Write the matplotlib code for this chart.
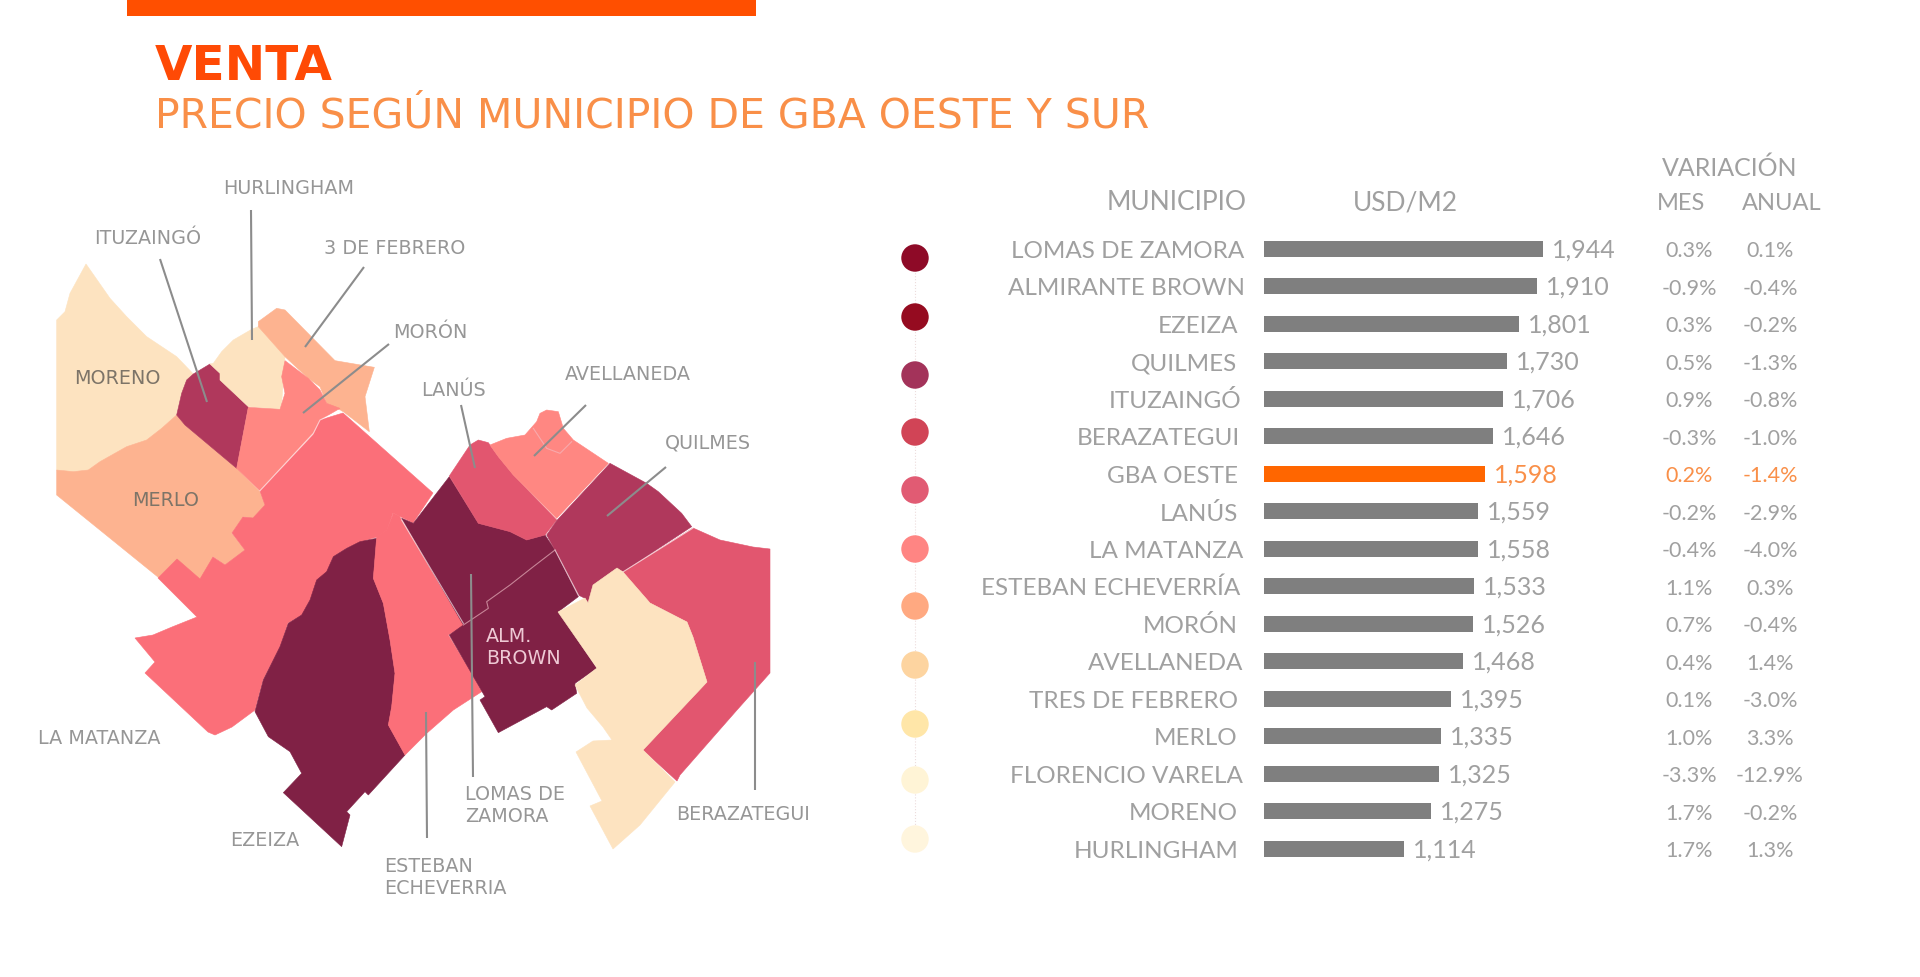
import matplotlib
matplotlib.use("Agg")
import matplotlib.pyplot as plt
from matplotlib.patches import Polygon, Rectangle

# ---------- table data ----------
municipios = ["LOMAS DE ZAMORA", "ALMIRANTE BROWN", "EZEIZA", "QUILMES", "ITUZAINGÓ", "BERAZATEGUI",
              "GBA OESTE", "LANÚS", "LA MATANZA", "ESTEBAN ECHEVERRÍA", "MORÓN", "AVELLANEDA",
              "TRES DE FEBRERO", "MERLO", "FLORENCIO VARELA", "MORENO", "HURLINGHAM"]
usd_m2 = [1944, 1910, 1801, 1730, 1706, 1646, 1598, 1559, 1558, 1533, 1526, 1468, 1395, 1335, 1325, 1275, 1114]
var_mes = ["0.3%", "-0.9%", "0.3%", "0.5%", "0.9%", "-0.3%", "0.2%", "-0.2%", "-0.4%", "1.1%", "0.7%", "0.4%",
           "0.1%", "1.0%", "-3.3%", "1.7%", "1.7%"]
var_anual = ["0.1%", "-0.4%", "-0.2%", "-1.3%", "-0.8%", "-1.0%", "-1.4%", "-2.9%", "-4.0%", "0.3%", "-0.4%",
             "1.4%", "-3.0%", "3.3%", "-12.9%", "-0.2%", "1.3%"]
name_right = [1244, 1245, 1238, 1237, 1241, 1240, 1238, 1238, 1243, 1240, 1238, 1243, 1238, 1237, 1243, 1238, 1239]
legend_colors = ["#8e0a27", "#950b20", "#a3335a", "#d14456", "#e15b73", "#ff8583",
                 "#ffa981", "#fdd4a0", "#ffe6a8", "#fff4d6", "#fff5dd"]
legend_y = [258, 317, 375, 432, 490, 549, 606, 665, 724, 780, 839]

# ---------- map geometry (municipal outlines, traced in image pixels) ----------
def z1(pts): return [(30 + x / 3, 170 + y / 3) for x, y in pts]
def z2(pts): return [(400 + x / 3, 350 + y / 3) for x, y in pts]
def z3(pts): return [(120 + x / 3, 500 + y / 3) for x, y in pts]

CREAM, PEACH, SALMON, CORAL, ROSE, BERRY, WINE = ("#fde3c0", "#fdb390", "#ff8782", "#fb6f79",
                                                  "#e2566f", "#b0385c", "#802145")
moreno = z1([(168,282),(120,370),(105,425),(80,450),(80,900),(130,905),(175,900),(210,875),(290,830),(350,810),
             (395,775),(440,735),(445,710),(455,670),(470,630),(490,612),(440,560),(350,500),(290,440),(240,385)])
merlo = z1([(80,900),(130,905),(175,900),(210,875),(290,830),(350,810),(395,775),(440,735),(465,765),(620,895),
            (690,965),(705,1005),(670,1045),(640,1040),(605,1090),(645,1140),(585,1185),(550,1160),(510,1230),
            (440,1170),(385,1222),(80,975)])
ituzaingo = z1([(540,582),(570,610),(570,630),(655,710),(620,895),(465,765),(440,735),(455,670),(470,630),(490,612)])
hurlingham = z1([(550,580),(575,545),(610,510),(665,478),(685,470),(765,560),(755,700),(750,718),(655,710),
                 (570,630),(570,610),(540,582)])
tres_feb = z1([(685,455),(740,415),(765,420),(915,572),(1033,592),(1005,680),(1018,785),(940,725),(890,700),
               (870,650),(835,625),(765,560),(685,470)])
moron = z1([(765,572),(835,625),(870,660),(890,700),(930,715),(870,750),(850,790),(690,962),(620,895),(655,712),
            (750,718),(765,670),(755,620)])
la_matanza = [(343,413),(433,493),(413,523),(399,516),(393,513),(387,530),(377,537),(360,542),(347,548),(333,557),
              (327,572),(317,580),(310,600),(302,615),(288,623),(280,647),(263,680),(255,710),(232,727),(215,735),
              (208,732),(145,673),(155,662),(135,638),(153,635),(172,627),(197,617),(158,578),(177,559),(200,579),
              (213,557),(225,565),(245,550),(232,533),(243,517),(253,518),(265,505),(260,491),(313,435),(320,420)]
ezeiza = z3([(770,115),(760,235),(790,310),(810,420),(825,520),(815,620),(805,675),(855,765),(745,885),(735,875),
             (680,935),(690,945),(665,1040),(490,878),(545,820),(510,755),(445,710),(405,635),(430,540),(480,440),
             (505,370),(545,345),(570,300),(590,240),(620,215),(640,170),(680,145),(720,125)])
esteban = z3([(820,40),(838,48),(1035,375),(985,405),(1055,520),(1085,575),(1000,630),(920,700),(855,765),(805,675),
              (815,620),(825,520),(810,420),(790,310),(760,235),(770,110),(800,90)])
lomas = z2([(148,380),(235,520),(330,545),(380,570),(435,555),(465,600),(400,650),(330,705),(260,755),(265,775),
            (190,825),(5,505),(40,520)])
brown = z2([(465,600),(535,740),(475,785),(590,955),(525,1000),(530,1030),(455,1080),(440,1070),(295,1148),(240,1050),
            (255,1040),(148,855),(190,825),(265,775),(260,755),(330,705),(400,650)])
lanus = z2([(148,378),(210,285),(235,270),(265,278),(295,320),(340,375),(470,510),(435,555),(380,570),(330,545),(235,520)])
avellaneda = z2([(270,285),(320,265),(375,255),(410,215),(420,190),(440,180),(475,185),(490,235),(520,270),(625,340),
                 (470,505),(340,375),(295,320)])
quilmes = z2([(630,340),(740,400),(775,425),(845,490),(875,530),(670,665),(650,655),(580,705),(565,760),(555,745),
              (535,735),(465,600),(440,555),(470,512)])
berazategui = [(693,528),(720,540),(753,547),(770,549),(770,673),(737,710),(680,775),(677,781),(643,750),(707,682),
               (693,637),(687,622),(650,603),(623,572)]
varela = [(617,568),(623,572),(650,603),(687,622),(693,637),(707,682),(643,750),(675,782),(640,825),(613,849),(590,806),
          (602,801),(576,752),(593,741),(612,740),(603,727),(587,708),(575,685),(597,668),(558,612),(585,598),(588,603),
          (593,585)]
regions = [(moreno, CREAM), (merlo, PEACH), (ituzaingo, BERRY), (hurlingham, CREAM), (tres_feb, PEACH), (moron, SALMON),
           (la_matanza, CORAL), (ezeiza, WINE), (esteban, CORAL), (lomas, WINE), (brown, WINE), (lanus, ROSE),
           (avellaneda, SALMON), (quilmes, BERRY), (berazategui, ROSE), (varela, CREAM)]
white_seams = [z1([(690,962),(850,790),(870,750),(930,722)]), z3([(845,60),(1030,370)]),
               z2([(670,665),(878,535)]), z2([(465,600),(535,735)])]
pale_seams = [z2([(190,825),(265,775),(260,755),(330,705),(400,650),(465,600)]),
              z2([(400,235),(440,295),(480,310),(515,275)])]
leaders = [[(251,210),(252,340)], [(160,259),(207,402)], [(364,267),(305,347)], [(389,344),(303,413)],
           [(461,405),(475,468)], [(586,405),(534,456)], [(666,467),(607,516)], [(471,574),(473,777)],
           [(426,712),(427,838)], [(755,662),(755,790)]]
map_labels = [("HURLINGHAM", 223, 188, "#969696"), ("ITUZAINGÓ", 94, 238, "#969696"), ("3 DE FEBRERO", 324, 247, "#969696"),
              ("MORÓN", 393, 332, "#969696"), ("MORENO", 74, 377, "#7d7468"), ("MERLO", 132, 500, "#7d7468"),
              ("LANÚS", 421, 390, "#969696"), ("AVELLANEDA", 565, 373, "#969696"), ("QUILMES", 665, 442, "#969696"),
              ("ALM.", 486, 636, "#eec9d4"), ("BROWN", 486, 657, "#eec9d4"), ("LA MATANZA", 38, 737, "#969696"),
              ("EZEIZA", 230, 839, "#969696"), ("LOMAS DE", 465, 793, "#969696"), ("ZAMORA", 465, 815, "#969696"),
              ("ESTEBAN", 384, 865, "#969696"), ("ECHEVERRIA", 384, 887, "#969696"), ("BERAZATEGUI", 676, 813, "#969696")]

# ---------- figure ----------
W, H = 1920, 977
fig = plt.figure(figsize=(W / 100, H / 100), dpi=100, facecolor="white")
px = fig.add_axes([0, 0, 1, 1], facecolor="none")
px.set_xlim(0, W); px.set_ylim(H, 0); px.axis("off")
FONT = "Lato"
WIDE = "DejaVu Sans"
GREY = "#a0a0a0"

px.add_patch(Rectangle((127, 0), 629, 15.5, color="#ff4f00", lw=0))
px.text(155, 80, "VENTA", color="#ff4a05", fontsize=34.8, family=WIDE, fontweight="bold", va="baseline")
px.text(155, 127, "PRECIO SEGÚN MUNICIPIO DE GBA OESTE Y SUR", color="#f98f48", fontsize=29.5, family=WIDE,
        va="baseline")

for pts, c in regions:
    px.add_patch(Polygon(pts, closed=True, facecolor=c, edgecolor=c, lw=0.4, zorder=2))
for s in white_seams:
    px.plot(*zip(*s), color="white", lw=0.8, alpha=0.6, zorder=3)
for s in pale_seams:
    px.plot(*zip(*s), color="#f3c0c8", lw=0.8, alpha=0.6, zorder=3)
for s in leaders:
    px.plot(*zip(*s), color="#8c8c8c", lw=1.5, zorder=4, solid_capstyle="butt")
for t, x, y, c in map_labels:
    px.text(x, y + 1, t, color=c, fontsize=13.8, family=WIDE, ha="left", va="center", zorder=5)

# legend dots
px.plot([915, 915], [legend_y[0], legend_y[-1]], color="#ecdcdc", lw=0.8, ls=":", zorder=1)
px.scatter([915] * len(legend_y), legend_y, s=390, c=legend_colors, linewidths=0, zorder=2)

# header
px.text(1247, 203, "MUNICIPIO", color=GREY, fontsize=19, family=FONT, ha="right", va="center")
px.text(1405, 203, "USD/M2", color=GREY, fontsize=19, family=FONT, ha="center", va="center")
px.text(1730, 168, "VARIACIÓN", color=GREY, fontsize=18, family=FONT, ha="center", va="center")
px.text(1681, 203, "MES", color=GREY, fontsize=17, family=FONT, ha="center", va="center")
px.text(1782, 203, "ANUAL", color=GREY, fontsize=17, family=FONT, ha="center", va="center")

# bars (truncated axis, as in the original)
row0, row_step = 248.6, 37.5
top, bottom, left, width = 230, 870, 1264, 400
ax = fig.add_axes([left / W, 1 - bottom / H, width / W, (bottom - top) / H], facecolor="none")
ax.set_ylim((bottom - row0) / row_step, (top - row0) / row_step)
ax.set_xlim(284, 284 + width / 0.1681)
ax.axis("off")
HL = "GBA OESTE"
bar_colors = ["#ff6600" if m == HL else "#7f7f7f" for m in municipios]
rows = list(range(len(municipios)))
ax.barh(rows, usd_m2, height=16 / row_step, color=bar_colors, linewidth=0)
for i, (m, v) in enumerate(zip(municipios, usd_m2)):
    tc = "#f98f48" if m == HL else GREY
    ax.annotate(f"{v:,}", (v, i), xytext=(9, -1), textcoords="offset pixels", color=tc, fontsize=18,
                family=FONT, va="center", ha="left", annotation_clip=False)
    y = row0 + i * row_step + 2.5
    px.text(name_right[i], y, m, color=GREY, fontsize=17.5, family=FONT, ha="right", va="center")
    px.text(1689, y, var_mes[i], color=tc, fontsize=15.5, family=FONT, ha="center", va="center")
    px.text(1770, y, var_anual[i], color=tc, fontsize=15.5, family=FONT, ha="center", va="center")

fig.savefig("out.png", dpi=100, facecolor="white")
